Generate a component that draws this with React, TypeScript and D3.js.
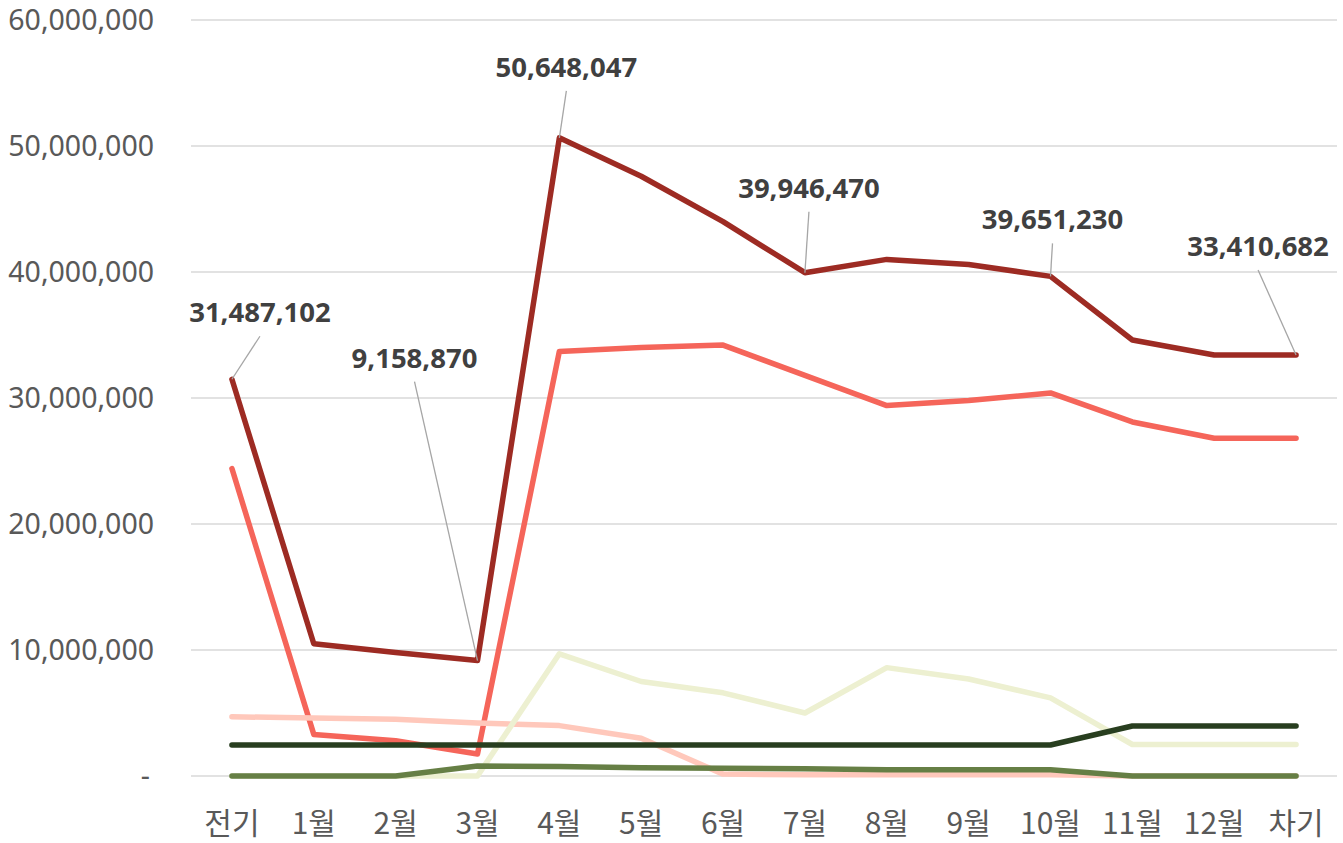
import React from "react";
import * as d3 from "d3";

const categories = ["전기", "1월", "2월", "3월", "4월", "5월", "6월", "7월", "8월", "9월", "10월", "11월", "12월", "차기"];

const totalValues = [31487102, 10500000, 9800000, 9158870, 50648047, 47600000, 44000000, 39946470, 41000000, 40600000, 39651230, 34600000, 33410682, 33410682];
const salmonValues = [24400000, 3300000, 2800000, 1750000, 33700000, 34000000, 34200000, 31800000, 29400000, 29800000, 30400000, 28100000, 26800000, 26800000];
const pinkValues = [4700000, 4600000, 4500000, 4200000, 4000000, 3000000, 150000, 100000, 100000, 100000, 100000, 0, 0, 0];
const yellowValues = [0, 0, 0, 0, 9700000, 7500000, 6600000, 5000000, 8600000, 7700000, 6200000, 2500000, 2500000, 2500000];
const darkGreenValues = [2460000, 2460000, 2460000, 2460000, 2460000, 2460000, 2460000, 2460000, 2460000, 2460000, 2460000, 3970000, 3970000, 3970000];
const oliveValues = [0, 0, 0, 800000, 750000, 650000, 620000, 580000, 500000, 500000, 500000, 0, 0, 0];

const yTicks = [0, 10000000, 20000000, 30000000, 40000000, 50000000, 60000000];

// which points of the total line get a label, and where the label sits relative to the point
const labelIndex = [0, 3, 4, 7, 10, 13];
const labelOffset: [number, number][] = [
  [28, -57],
  [-63, -293],
  [7, -61],
  [4, -75],
  [2, -47],
  [-38, -99],
];

const series = [
  { name: "salmon", values: salmonValues, color: "#F5655A" },
  { name: "pink", values: pinkValues, color: "#FFC8BB" },
  { name: "yellow", values: yellowValues, color: "#EDF0D1" },
  { name: "darkGreen", values: darkGreenValues, color: "#283E1F" },
  { name: "olive", values: oliveValues, color: "#667F45" },
  { name: "total", values: totalValues, color: "#9D2B23" },
];

export default function App() {
  const width = 1343;
  const height = 843;

  const x = d3.scalePoint<string>().domain(categories).range([191, 1337]).padding(0.5);
  const y = d3.scaleLinear().domain([0, 60000000]).range([776, 20]);

  const line = d3
    .line<number>()
    .x((_, i) => x(categories[i]) as number)
    .y((d) => y(d));

  const fmt = d3.format(",");

  return (
    <svg width={width} height={height} style={{ position: "absolute", left: 0, top: 0, background: "#fff" }}>
      {/* gridlines */}
      {yTicks.map((t) => (
        <line key={t} x1={191} x2={1337} y1={y(t)} y2={y(t)} stroke="#d9d9d9" strokeWidth={1.5} />
      ))}

      {/* y labels */}
      {yTicks.map((t) => (
        <text
          key={"l" + t}
          x={t === 0 ? 150 : 154}
          y={y(t) + 10}
          textAnchor="end"
          fontFamily="'Noto Sans', 'Noto Sans CJK KR', sans-serif"
          fontSize={28.5}
          fill="#595959"
        >
          {t === 0 ? "-" : fmt(t)}
        </text>
      ))}

      {/* x labels */}
      {categories.map((c) => (
        <text
          key={c}
          x={x(c) as number}
          y={834}
          textAnchor="middle"
          fontFamily="'Noto Sans CJK KR', 'Noto Sans', sans-serif"
          fontSize={30}
          fill="#595959"
        >
          {c}
        </text>
      ))}

      {/* lines */}
      {series.map((s) => (
        <path
          key={s.name}
          d={line(s.values) || ""}
          fill="none"
          stroke={s.color}
          strokeWidth={5.5}
          strokeLinejoin="round"
          strokeLinecap="round"
        />
      ))}

      {/* data labels with leader lines */}
      {labelIndex.map((idx, k) => {
        const px = x(categories[idx]) as number;
        const py = y(totalValues[idx]);
        const [dx, dy] = labelOffset[k];
        const lx = px + dx;
        const ly = py + dy;
        return (
          <g key={"dl" + idx}>
            <line x1={px} y1={py} x2={lx} y2={ly + 14} stroke="#a6a6a6" strokeWidth={1.3} />
            <text
              x={lx}
              y={ly}
              textAnchor="middle"
              fontFamily="'Noto Sans', sans-serif"
              fontWeight="bold"
              fontSize={27.5}
              fill="#404040"
            >
              {fmt(totalValues[idx])}
            </text>
          </g>
        );
      })}
    </svg>
  );
}
